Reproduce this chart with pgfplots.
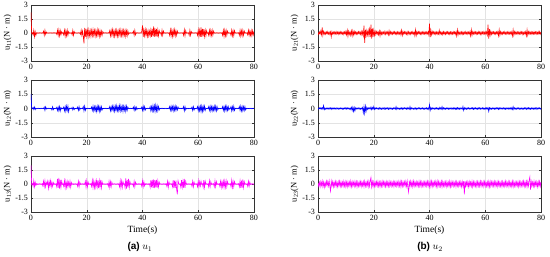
\documentclass[border=0pt]{standalone}
\usepackage{pgfplots}
\pgfplotsset{compat=1.18}
\usepackage{pgfplotstable}
\usepackage{fontspec}
\setmainfont{Liberation Serif}
\newfontfamily\capfont{Liberation Sans}
\definecolor{mred}{RGB}{255,0,0}
\definecolor{mblue}{RGB}{0,0,255}
\definecolor{mmag}{RGB}{255,0,255}

\pgfplotstableread{
t a b c d e f
0.00 2.20 1.50 2.00 0.05 0.04 0.10
0.25 -0.05 0.04 -0.06 -0.15 -0.06 -0.22
0.50 0.03 -0.03 0.05 0.12 0.07 0.18
0.75 -0.20 0.12 -0.25 -0.10 -0.05 -0.30
1.00 0.30 -0.10 0.35 0.22 0.08 0.25
1.25 -0.40 0.15 -0.30 -0.18 -0.06 -0.15
1.50 0.15 -0.12 0.20 0.60 0.10 0.32
1.75 -0.25 0.04 -0.15 -0.25 -0.07 -0.28
2.00 0.03 -0.03 0.04 0.18 0.30 0.20
2.25 -0.02 0.03 -0.04 -0.12 -0.12 -0.35
2.50 0.03 -0.02 0.03 0.10 0.06 0.15
2.75 -0.02 0.03 -0.04 -0.14 -0.08 -0.22
3.00 0.03 -0.02 0.03 0.12 0.05 0.30
3.25 -0.02 0.03 -0.04 -0.10 -0.07 -0.18
3.50 0.03 -0.02 0.03 0.15 0.06 0.25
3.75 -0.02 0.03 -0.04 -0.12 -0.05 -0.20
4.00 0.03 -0.02 0.04 0.10 0.08 0.35
4.25 -0.02 0.03 -0.20 -0.16 -0.06 -0.25
4.50 0.20 -0.02 0.30 0.12 0.07 -0.75
4.75 -0.25 0.15 -0.25 -0.40 -0.10 0.30
5.00 0.30 -0.20 0.35 0.15 0.08 -0.20
5.25 -0.15 0.18 -0.30 -0.12 -0.06 0.25
5.50 0.10 -0.05 0.15 0.10 0.05 -0.30
5.75 -0.02 0.03 -0.04 -0.14 -0.07 0.20
6.00 0.03 -0.02 0.30 0.12 0.06 -0.22
6.25 -0.02 0.03 -0.45 -0.10 -0.05 0.28
6.50 0.03 -0.02 0.25 0.15 0.07 -0.25
6.75 -0.02 0.03 -0.20 -0.12 -0.06 0.20
7.00 0.03 -0.02 0.35 0.10 0.05 -0.28
7.25 -0.02 0.03 -0.30 -0.14 -0.08 0.25
7.50 0.03 -0.15 0.20 0.12 0.06 -0.20
7.75 -0.02 0.18 -0.25 -0.10 -0.05 0.30
8.00 0.03 -0.12 0.15 0.14 0.07 -0.24
8.25 -0.02 0.03 -0.04 -0.12 -0.06 0.22
8.50 0.03 -0.02 0.03 0.10 0.05 -0.26
8.75 -0.02 0.03 -0.04 -0.13 -0.07 0.20
9.00 0.03 -0.02 0.03 0.11 0.06 -0.25
9.25 -0.15 0.12 -0.30 -0.15 -0.08 0.28
9.50 0.30 -0.20 0.55 0.12 0.06 -0.22
9.75 -0.25 0.15 -0.40 -0.10 -0.05 0.25
10.00 0.35 -0.25 0.65 0.18 0.10 -0.30
10.25 -0.30 0.20 -0.50 -0.20 -0.07 0.22
10.50 0.25 -0.25 0.45 0.30 0.08 -0.28
10.75 -0.20 0.10 -0.35 -0.35 -0.06 0.25
11.00 0.15 -0.05 0.30 0.20 0.05 -0.20
11.25 -0.02 0.03 -0.04 -0.15 -0.08 0.22
11.50 0.03 -0.02 0.03 0.12 0.06 -0.25
11.75 -0.20 0.15 -0.25 -0.25 -0.10 0.30
12.00 0.30 -0.25 0.35 0.22 0.12 -0.28
12.25 -0.35 0.20 -0.40 -0.30 -0.20 0.25
12.50 0.25 -0.30 0.30 0.25 0.15 -0.22
12.75 -0.30 0.25 -0.35 -0.20 -0.30 0.20
13.00 0.30 -0.20 0.25 0.18 0.10 -0.25
13.25 -0.25 0.25 -0.30 -0.15 -0.25 0.28
13.50 0.15 -0.35 0.20 0.12 0.08 -0.22
13.75 -0.02 0.03 -0.25 -0.14 -0.06 0.25
14.00 0.03 -0.02 0.30 0.10 0.07 -0.30
14.25 -0.02 0.03 -0.35 -0.12 -0.05 0.20
14.50 0.03 -0.02 0.15 0.14 0.06 -0.25
14.75 -0.20 0.12 -0.04 -0.10 -0.08 0.22
15.00 0.30 -0.15 0.03 0.12 0.06 -0.20
15.25 -0.25 0.10 -0.04 -0.15 -0.07 0.25
15.50 0.15 -0.12 0.03 0.18 0.05 -0.28
15.75 -0.02 0.03 -0.04 -0.20 -0.06 0.22
16.00 0.03 -0.02 0.03 0.15 0.10 -0.20
16.25 -0.02 0.03 -0.04 -0.30 -0.45 0.25
16.50 0.03 -0.02 0.03 0.80 0.20 -0.28
16.75 -0.02 0.15 -0.25 -1.05 -0.50 0.30
17.00 0.03 -0.20 0.30 0.35 0.25 -0.25
17.25 -0.02 0.20 -0.30 -0.30 -0.30 0.20
17.50 0.03 -0.15 0.20 0.25 0.12 -0.22
17.75 -0.15 0.03 -0.04 -0.20 -0.10 0.25
18.00 0.30 -0.02 0.03 0.30 0.08 -0.30
18.25 -0.25 0.03 -0.04 -0.25 -0.06 0.28
18.50 0.20 -0.02 0.03 0.40 0.07 -0.25
18.75 -0.35 0.20 -0.04 -0.45 -0.05 0.35
19.00 -1.10 -0.25 0.03 0.90 0.15 0.70
19.25 0.55 0.25 -0.04 -0.60 -0.12 -0.30
19.50 -0.40 -0.20 0.30 0.50 0.10 0.25
19.75 0.45 0.03 -0.35 -0.40 -0.08 -0.28
20.00 -0.35 -0.02 0.35 0.30 0.20 0.22
20.25 0.30 0.03 -0.30 -0.25 -0.10 -0.25
20.50 -0.40 -0.02 0.20 0.20 0.08 0.20
20.75 0.35 0.03 -0.04 -0.18 -0.06 -0.22
21.00 -0.30 -0.02 0.03 0.15 0.07 0.25
21.25 0.25 0.03 -0.04 -0.12 -0.05 -0.20
21.50 -0.35 -0.02 0.03 0.14 0.06 0.28
21.75 0.30 0.15 -0.25 -0.20 -0.08 -0.25
22.00 -0.30 -0.20 0.40 0.22 0.09 0.22
22.25 0.35 0.25 -0.35 -0.30 -0.07 -0.28
22.50 -0.25 -0.25 0.30 0.18 0.06 0.20
22.75 0.30 0.20 -0.40 -0.15 -0.08 -0.25
23.00 -0.35 -0.25 0.25 0.12 0.07 0.30
23.25 0.25 0.20 -0.35 -0.14 -0.06 -0.22
23.50 -0.30 -0.30 0.35 0.10 0.05 0.25
23.75 0.35 0.25 -0.30 -0.12 -0.08 -0.20
24.00 -0.25 -0.20 0.40 0.18 0.10 0.22
24.25 0.30 0.25 -0.45 -0.15 -0.07 -0.28
24.50 -0.35 -0.30 0.35 0.12 0.06 0.25
24.75 0.25 0.20 -0.30 -0.10 -0.05 -0.22
25.00 -0.30 -0.25 0.45 0.14 0.07 0.20
25.25 0.20 0.20 -0.40 -0.20 -0.09 -0.25
25.50 -0.25 -0.15 0.25 0.25 0.08 0.28
25.75 0.15 0.03 -0.04 -0.18 -0.06 -0.22
26.00 -0.02 -0.02 0.03 0.14 0.05 0.20
26.25 0.03 0.03 -0.04 -0.12 -0.07 -0.25
26.50 -0.02 -0.02 0.03 0.10 0.06 0.22
26.75 0.03 0.03 -0.04 -0.14 -0.08 -0.20
27.00 -0.02 -0.02 0.03 0.12 0.07 0.25
27.25 0.03 0.03 -0.04 -0.10 -0.05 -0.28
27.50 -0.02 -0.02 0.03 0.15 0.06 0.22
27.75 0.03 0.03 -0.25 -0.12 -0.08 -0.20
28.00 -0.02 -0.02 0.30 0.10 0.20 0.25
28.25 0.25 0.20 -0.35 -0.15 -0.10 -0.22
28.50 -0.30 -0.25 0.25 0.12 0.07 0.20
28.75 0.30 0.20 -0.30 -0.14 -0.06 -0.25
29.00 -0.25 -0.20 0.20 0.10 0.05 0.28
29.25 0.35 0.25 -0.04 -0.12 -0.08 -0.22
29.50 -0.30 -0.20 0.03 0.14 0.06 0.25
29.75 0.25 0.25 -0.04 -0.20 -0.07 -0.30
30.00 -0.35 -0.30 0.03 0.30 0.08 0.28
30.25 0.30 0.25 -0.04 -0.25 -0.09 -0.25
30.50 -0.25 -0.20 0.03 0.15 0.07 0.22
30.75 0.30 0.30 -0.04 -0.12 -0.06 -0.20
31.00 -0.35 -0.25 0.03 0.14 0.08 0.25
31.25 0.25 0.20 -0.04 -0.10 -0.05 -0.22
31.50 -0.30 -0.25 0.03 0.12 0.06 0.28
31.75 0.30 0.30 -0.30 -0.14 -0.08 -0.25
32.00 -0.25 -0.25 0.35 0.12 0.10 0.30
32.25 0.35 0.30 -0.40 -0.18 -0.07 -0.40
32.50 -0.30 -0.20 0.30 0.14 0.06 -0.85
32.75 0.25 0.25 -0.35 -0.12 -0.08 0.35
33.00 -0.30 -0.30 0.25 0.10 0.20 -0.25
33.25 0.30 0.25 -0.04 -0.15 -0.10 0.30
33.50 -0.25 -0.20 0.03 0.12 0.07 -0.22
33.75 0.30 0.25 -0.40 -0.10 -0.06 0.25
34.00 -0.35 -0.30 0.60 0.14 0.05 -0.28
34.25 0.25 0.25 -0.50 -0.12 -0.07 0.30
34.50 -0.30 -0.20 0.45 0.10 0.06 -0.25
34.75 0.25 0.15 -0.35 -0.30 -0.08 0.22
35.00 -0.15 -0.02 0.55 0.35 0.07 -0.20
35.25 0.03 0.03 -0.35 -0.25 -0.09 0.25
35.50 -0.02 -0.02 0.25 0.15 0.06 -0.22
35.75 0.03 0.03 -0.04 -0.12 -0.05 0.20
36.00 -0.02 -0.02 0.03 0.14 0.07 -0.25
36.25 0.03 0.03 -0.04 -0.10 -0.06 0.28
36.50 -0.02 -0.02 0.03 0.12 0.08 -0.22
36.75 0.20 0.15 -0.25 -0.14 -0.07 0.25
37.00 -0.25 -0.20 0.30 0.10 0.06 -0.28
37.25 0.30 0.20 -0.30 -0.15 -0.05 0.24
37.50 -0.20 -0.15 0.20 0.12 0.07 -0.22
37.75 0.03 0.15 -0.04 -0.10 -0.08 0.20
38.00 -0.02 -0.12 0.03 0.14 0.06 -0.25
38.25 0.03 0.03 -0.04 -0.12 -0.07 0.22
38.50 -0.02 -0.02 0.03 0.10 0.05 -0.20
38.75 0.03 0.03 -0.04 -0.14 -0.06 0.25
39.00 -0.02 -0.02 0.03 0.12 0.08 -0.22
39.25 0.03 0.03 -0.04 -0.10 -0.07 0.28
39.50 -0.02 -0.02 0.03 0.14 0.06 -0.25
39.75 0.20 0.15 -0.25 -0.20 -0.10 0.22
40.00 0.80 -0.20 0.35 1.00 0.40 -0.30
40.25 -0.40 0.25 -0.30 -0.45 -0.20 0.25
40.50 0.35 -0.20 0.25 0.30 0.10 -0.28
40.75 -0.30 0.20 -0.20 -0.20 -0.08 0.30
41.00 0.35 -0.15 0.03 0.15 0.07 -0.25
41.25 -0.25 0.03 -0.04 -0.12 -0.06 0.22
41.50 0.30 -0.02 0.03 0.14 0.05 -0.20
41.75 -0.35 0.03 -0.04 -0.10 -0.08 0.25
42.00 0.25 -0.02 0.03 0.12 0.07 -0.22
42.25 -0.30 0.03 -0.04 -0.15 -0.06 0.28
42.50 0.20 -0.02 0.03 0.12 0.08 -0.25
42.75 -0.30 0.20 -0.35 -0.14 -0.07 0.30
43.00 0.35 -0.25 0.40 0.10 0.06 -0.28
43.25 -0.40 0.20 -0.35 -0.12 -0.09 0.25
43.50 0.45 -0.25 0.45 0.30 0.10 -0.22
43.75 -0.35 0.30 -0.40 -0.15 -0.08 0.20
44.00 0.70 -0.25 0.50 0.12 0.07 -0.25
44.25 -0.40 0.30 -0.45 -0.14 -0.06 0.28
44.50 0.50 -0.30 0.40 0.10 0.20 -0.30
44.75 -0.35 0.35 -0.35 -0.18 -0.10 0.25
45.00 0.45 -0.25 0.45 0.14 0.08 -0.22
45.25 -0.40 0.30 -0.40 -0.12 -0.07 0.20
45.50 0.35 -0.25 0.35 0.10 0.06 -0.25
45.75 -0.30 0.20 -0.30 -0.15 -0.08 0.22
46.00 0.25 -0.15 0.20 0.12 0.07 -0.28
46.25 -0.02 0.03 -0.04 -0.10 -0.05 0.25
46.50 0.03 -0.02 0.03 0.14 0.06 -0.22
46.75 -0.25 0.03 -0.04 -0.12 -0.08 0.20
47.00 0.30 -0.02 0.03 0.10 0.07 -0.25
47.25 -0.25 0.03 -0.04 -0.15 -0.06 0.28
47.50 0.20 -0.02 0.03 0.12 0.05 -0.30
47.75 -0.02 0.03 -0.04 -0.14 -0.08 0.25
48.00 0.03 -0.02 0.03 0.10 0.07 -0.22
48.25 -0.02 0.03 -0.04 -0.12 -0.06 0.20
48.50 0.03 -0.02 0.03 0.14 0.08 -0.25
48.75 -0.02 0.03 -0.25 -0.10 -0.07 0.22
49.00 0.03 -0.02 0.30 0.12 0.06 -0.20
49.25 -0.02 0.03 -0.35 -0.15 -0.09 0.25
49.50 0.03 -0.02 0.20 0.12 0.07 -0.28
49.75 -0.25 0.20 -0.04 -0.30 -0.08 0.25
50.00 0.35 -0.20 0.03 0.35 0.10 -0.22
50.25 -0.30 0.25 -0.04 -0.20 -0.07 0.20
50.50 0.30 -0.20 0.03 0.14 0.06 -0.25
50.75 -0.35 0.20 -0.30 -0.12 -0.08 0.22
51.00 0.30 -0.25 0.40 0.10 0.07 -0.20
51.25 -0.25 0.25 -0.45 -0.15 -0.06 0.25
51.50 0.35 -0.20 0.35 0.12 0.05 -0.28
51.75 -0.30 0.25 -0.40 -0.14 -0.08 0.25
52.00 0.25 -0.20 0.35 0.12 0.20 -0.22
52.25 -0.25 0.20 -0.60 -0.14 -0.20 0.30
52.50 0.20 -0.15 -1.10 0.10 0.08 -1.10
52.75 -0.02 0.15 0.35 -0.12 -0.07 0.30
53.00 0.03 -0.02 0.03 0.14 0.06 -0.25
53.25 -0.02 0.03 -0.04 -0.10 -0.08 0.22
53.50 0.03 -0.02 0.03 0.12 0.07 -0.20
53.75 -0.02 0.03 -0.35 -0.14 -0.06 0.25
54.00 0.03 -0.02 0.40 0.10 0.08 -0.28
54.25 -0.02 0.03 -0.35 -0.12 -0.07 0.25
54.50 0.03 -0.02 0.30 0.14 0.06 -0.22
54.75 -0.25 0.20 -0.40 -0.30 -0.05 0.20
55.00 0.35 -0.25 0.55 0.35 0.07 -0.25
55.25 -0.30 0.20 -0.40 -0.25 -0.06 0.28
55.50 0.25 -0.15 0.30 0.15 0.08 -0.30
55.75 -0.02 0.03 -0.04 -0.12 -0.09 0.25
56.00 0.03 -0.02 0.03 0.14 0.07 -0.22
56.25 -0.02 0.03 -0.04 -0.10 -0.06 0.20
56.50 0.03 -0.02 0.03 0.12 0.08 -0.25
56.75 -0.25 0.03 -0.04 -0.15 -0.07 0.22
57.00 0.30 -0.02 0.03 0.10 0.06 -0.28
57.25 -0.25 0.03 -0.04 -0.12 -0.08 0.25
57.50 0.15 -0.02 0.03 0.14 0.07 -0.22
57.75 -0.02 0.15 -0.25 -0.10 -0.06 0.20
58.00 0.03 -0.20 0.30 0.12 0.08 -0.25
58.25 -0.02 0.20 -0.30 -0.15 -0.07 0.28
58.50 0.03 -0.15 0.20 0.12 0.06 -0.25
58.75 -0.02 0.03 -0.04 -0.14 -0.05 0.22
59.00 0.03 -0.02 0.03 0.10 0.07 -0.20
59.25 -0.02 0.03 -0.04 -0.12 -0.08 0.25
59.50 0.03 -0.02 0.03 0.14 0.06 -0.28
59.75 -0.25 0.20 -0.30 -0.10 -0.07 0.25
60.00 0.35 -0.25 0.35 0.12 0.08 -0.22
60.25 -0.35 0.20 -0.30 -0.15 -0.09 0.20
60.50 0.30 -0.25 0.25 0.14 0.07 -0.25
60.75 -0.40 0.25 -0.20 -0.20 -0.06 0.22
61.00 0.60 -0.30 0.30 0.90 0.10 -0.28
61.25 -0.40 0.25 -0.04 -0.60 -0.30 0.25
61.50 0.45 -0.30 0.03 0.40 0.08 -0.30
61.75 -0.35 0.25 -0.35 -0.25 -0.07 0.28
62.00 0.40 -0.20 0.40 0.20 0.06 -0.25
62.25 -0.35 0.25 -0.35 -0.15 -0.08 0.22
62.50 0.30 -0.20 0.30 0.12 0.07 -0.20
62.75 -0.30 0.03 -0.04 -0.10 -0.06 0.25
63.00 0.25 -0.02 0.03 0.14 0.05 -0.22
63.25 -0.02 0.03 -0.04 -0.12 -0.08 0.28
63.50 0.03 -0.02 0.03 0.10 0.07 -0.25
63.75 -0.25 0.20 -0.30 -0.14 -0.06 0.22
64.00 0.30 -0.20 0.35 0.12 0.07 -0.20
64.25 -0.25 0.25 -0.30 -0.10 -0.06 0.25
64.50 0.30 -0.25 0.25 0.14 0.08 -0.28
64.75 -0.25 0.20 -0.04 -0.30 -0.09 0.25
65.00 0.30 -0.25 0.03 0.35 0.08 -0.22
65.25 -0.25 0.20 -0.04 -0.25 -0.07 0.20
65.50 0.20 -0.20 0.03 0.15 0.06 -0.25
65.75 -0.02 0.25 -0.30 -0.12 -0.05 0.22
66.00 0.03 -0.20 0.35 0.10 0.07 -0.28
66.25 -0.02 0.25 -0.30 -0.14 -0.06 0.25
66.50 0.03 -0.25 0.25 0.12 0.08 -0.22
66.75 -0.02 0.20 -0.04 -0.10 -0.07 0.20
67.00 0.03 -0.15 0.03 0.14 0.06 -0.25
67.25 -0.02 0.03 -0.04 -0.12 -0.08 0.28
67.50 0.03 -0.02 0.03 0.10 0.07 -0.25
67.75 -0.02 0.03 -0.25 -0.14 -0.06 0.22
68.00 0.03 -0.02 0.30 0.12 0.05 -0.20
68.25 -0.02 0.03 -0.35 -0.10 -0.07 0.25
68.50 0.03 -0.02 0.25 0.14 0.08 -0.28
68.75 -0.25 0.20 -0.30 -0.12 -0.06 0.25
69.00 0.30 -0.20 0.30 0.10 0.07 -0.22
69.25 -0.35 0.20 -0.35 -0.15 -0.09 0.20
69.50 0.30 -0.25 0.30 0.12 0.08 -0.25
69.75 -0.30 0.25 -0.35 -0.30 -0.10 0.28
70.00 0.30 -0.20 0.35 0.35 0.20 -0.30
70.25 -0.25 0.25 -0.30 -0.25 -0.10 0.25
70.50 0.20 -0.20 0.25 0.15 0.08 -0.22
70.75 -0.02 0.20 -0.04 -0.12 -0.07 0.20
71.00 0.03 -0.15 0.03 0.14 0.06 -0.25
71.25 -0.02 0.03 -0.04 -0.10 -0.08 0.22
71.50 0.03 -0.02 0.03 0.12 0.07 -0.20
71.75 -0.25 0.20 -0.30 -0.14 -0.06 0.25
72.00 0.30 -0.25 0.40 0.10 0.07 -0.28
72.25 -0.30 0.20 -0.35 -0.12 -0.08 0.25
72.50 0.25 -0.20 0.30 0.14 0.06 -0.25
72.75 -0.30 0.25 -0.30 -0.10 -0.07 0.22
73.00 0.25 -0.20 0.25 0.12 0.05 -0.20
73.25 -0.02 0.03 -0.04 -0.15 -0.08 0.25
73.50 0.03 -0.02 0.03 0.12 0.06 -0.22
73.75 -0.02 0.03 -0.04 -0.14 -0.07 0.30
74.00 0.03 -0.02 0.03 0.10 0.08 -0.25
74.25 -0.02 0.03 -0.04 -0.12 -0.06 0.22
74.50 0.03 -0.02 0.03 0.14 0.07 -0.25
74.75 -0.25 0.20 -0.30 -0.30 -0.09 0.28
75.00 0.30 -0.20 0.35 0.35 0.07 -0.30
75.25 -0.30 0.25 -0.40 -0.25 -0.06 0.25
75.50 0.25 -0.25 0.35 0.15 0.08 -0.22
75.75 -0.30 0.20 -0.40 -0.12 -0.07 0.40
76.00 0.30 -0.25 0.50 0.14 0.06 0.75
76.25 -0.25 0.20 -0.35 -0.10 -0.08 -0.60
76.50 0.20 -0.20 0.25 0.12 0.07 0.25
76.75 -0.02 0.20 -0.04 -0.15 -0.06 -0.22
77.00 0.03 -0.15 0.03 0.10 0.05 0.20
77.25 -0.02 0.03 -0.04 -0.12 -0.08 -0.25
77.50 0.03 -0.02 0.03 0.14 0.07 0.28
77.75 -0.20 0.03 -0.25 -0.10 -0.06 -0.25
78.00 0.30 -0.02 0.30 0.12 0.07 0.22
78.25 -0.25 0.03 -0.25 -0.14 -0.09 -0.20
78.50 0.20 -0.02 0.20 0.12 0.08 0.25
78.75 -0.25 0.03 -0.04 -0.10 -0.06 -0.28
79.00 0.25 -0.02 0.03 0.14 0.07 0.25
79.25 -0.30 0.03 -0.04 -0.12 -0.05 -0.22
79.50 0.25 -0.02 0.03 0.15 0.08 0.28
79.75 -0.20 0.03 -0.04 -0.12 -0.07 -0.25
80.00 0.15 -0.02 0.03 0.10 0.06 0.22
}\data

\pgfplotsset{
  sig/.style={
    scale only axis, width=223pt,
    xmin=0, xmax=80, ymin=-3, ymax=3,
    xtick={0,20,40,60,80},
    ytick={-3,-1.5,0,1.5,3},
    yticklabels={-3,-1.5,0,1.5,3},
    grid=major, grid style={gray!22, line width=0.4pt},
    tick align=inside, major tick length=2pt,
    tick style={black!80, line width=0.4pt},
    axis line style={black!80, line width=0.5pt},
    ticklabel style={font=\fontsize{8}{9}\selectfont},
    xticklabel style={yshift=0.5pt},
    yticklabel style={xshift=0.5pt},
    ylabel style={font=\fontsize{8.5}{9}\selectfont, yshift=-3pt},
    /pgf/number format/assume math mode=true,
  },
}

\begin{document}
\begin{tikzpicture}
\path[use as bounding box] (0,0) rectangle (550pt,257pt);
% left column
\begin{axis}[sig, height=56pt, at={(31pt,196pt)}, anchor=south west,
  ylabel={u\textsubscript{11}(N · m)}]
\addplot[mred, line width=0.6pt, no marks] table[x=t, y=a]{\data};
\end{axis}
\begin{axis}[sig, height=57pt, at={(31pt,120pt)}, anchor=south west,
  ylabel={u\textsubscript{12}(N · m)}]
\addplot[mblue, line width=0.6pt, no marks] table[x=t, y=b]{\data};
\end{axis}
\begin{axis}[sig, height=56pt, at={(31pt,45pt)}, anchor=south west,
  ylabel={u\textsubscript{13}(N · m)}]
\addplot[mmag, line width=0.6pt, no marks] table[x=t, y=c]{\data};
\end{axis}
% right column
\begin{axis}[sig, height=56pt, at={(318pt,196pt)}, anchor=south west,
  ylabel={u\textsubscript{21}(N · m)}]
\addplot[mred, line width=0.6pt, no marks] table[x=t, y=d]{\data};
\end{axis}
\begin{axis}[sig, height=57pt, at={(318pt,120pt)}, anchor=south west,
  ylabel={u\textsubscript{22}(N · m)}]
\addplot[mblue, line width=0.6pt, no marks] table[x=t, y=e]{\data};
\end{axis}
\begin{axis}[sig, height=56pt, at={(318pt,45pt)}, anchor=south west,
  ylabel={u\textsubscript{23}(N · m)}]
\addplot[mmag, line width=0.6pt, no marks] table[x=t, y=f]{\data};
\end{axis}
\node[font=\fontsize{9.5}{11}\selectfont] at (142.5pt,27pt) {Time(s)};
\node[font=\fontsize{9.5}{11}\selectfont] at (429.5pt,27pt) {Time(s)};
\node[font=\fontsize{10}{12}\selectfont] at (140pt,10pt) {{\capfont\bfseries (a)} $u_1$};
\node[font=\fontsize{10}{12}\selectfont] at (430pt,10pt) {{\capfont\bfseries (b)} $u_2$};
\end{tikzpicture}
\end{document}
